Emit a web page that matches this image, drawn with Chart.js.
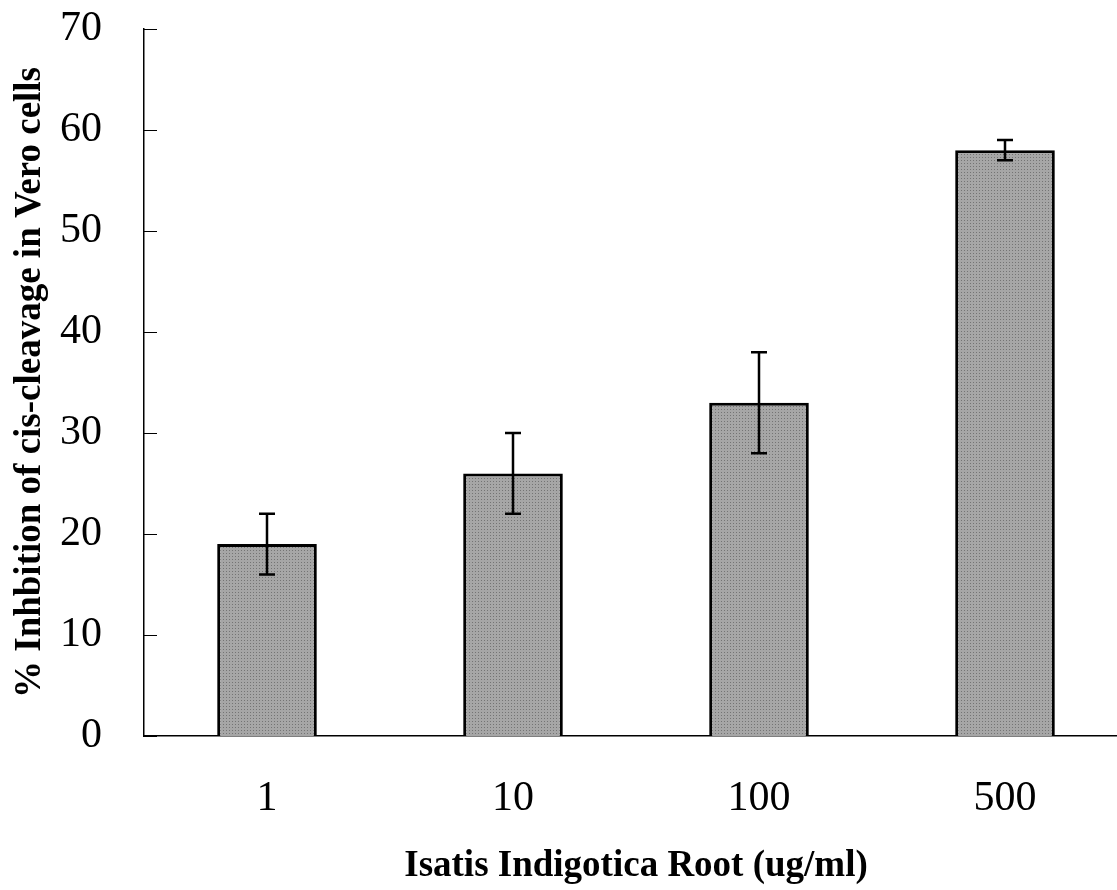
<!DOCTYPE html>
<html>
<head>
<meta charset="utf-8">
<script src="https://cdn.jsdelivr.net/npm/chart.js@4.4.1/dist/chart.umd.min.js"></script>
<style>
  html, body { margin: 0; padding: 0; background: #fff; overflow: hidden; }
  canvas { display: block; }
</style>
</head>
<body>
<canvas id="myChart" width="1128" height="890"></canvas>
<script>
var categories = ['1', '10', '100', '500'];
var inhibition = [19, 26, 33, 58];
var errLow = [16, 22, 28, 57];
var errHigh = [22, 30, 38, 59];
var yTicks = [0, 10, 20, 30, 40, 50, 60, 70];

// dotted grey fill like the original
var pc = document.createElement('canvas');
pc.width = 3; pc.height = 3;
var pctx = pc.getContext('2d');
pctx.fillStyle = '#a6a6a6';
pctx.fillRect(0, 0, 3, 3);
pctx.fillStyle = '#747474';
pctx.fillRect(1, 1, 1, 1);
var ctx = document.getElementById('myChart').getContext('2d');
var dotted = ctx.createPattern(pc, 'repeat');

var errorBars = {
  id: 'errorBars',
  afterDatasetsDraw: function(chart) {
    var c = chart.ctx;
    var meta = chart.getDatasetMeta(0);
    var y = chart.scales.y;
    c.save();
    c.strokeStyle = '#000';
    c.lineWidth = 2.5;
    for (var i = 0; i < meta.data.length; i++) {
      var x = meta.data[i].x;
      var top = y.getPixelForValue(errHigh[i]);
      var bot = y.getPixelForValue(errLow[i]);
      c.beginPath();
      c.moveTo(x, top); c.lineTo(x, bot);
      c.moveTo(x - 8, top); c.lineTo(x + 8, top);
      c.moveTo(x - 8, bot); c.lineTo(x + 8, bot);
      c.stroke();
    }
    c.restore();
  }
};

// tick marks point into the plot
var innerTicks = {
  id: 'innerTicks',
  afterDraw: function(chart) {
    var c = chart.ctx;
    var y = chart.scales.y;
    var left = chart.chartArea.left;
    c.save();
    c.strokeStyle = '#000';
    c.lineWidth = 1.2;
    c.beginPath();
    for (var i = 0; i < yTicks.length; i++) {
      var py = Math.round(y.getPixelForValue(yTicks[i])) + 0.5;
      c.moveTo(left, py);
      c.lineTo(left + 13, py);
    }
    c.stroke();
    c.restore();
  }
};

new Chart(ctx, {
  type: 'bar',
  data: {
    labels: categories,
    datasets: [{
      data: inhibition,
      backgroundColor: dotted,
      borderColor: '#000',
      borderWidth: 3,
      categoryPercentage: 1,
      barPercentage: 0.405
    }]
  },
  options: {
    responsive: false,
    maintainAspectRatio: false,
    animation: false,
    layout: { padding: { top: 29, right: 0, bottom: 0, left: 0 } },
    plugins: { legend: { display: false }, tooltip: { enabled: false } },
    scales: {
      x: {
        grid: { display: false },
        border: { display: true, color: '#000', width: 1.5 },
        ticks: {
          color: '#000',
          padding: 30,
          font: { family: '"Liberation Serif", "Times New Roman", serif', size: 42 }
        },
        title: {
          display: true,
          text: 'Isatis Indigotica Root (ug/ml)',
          color: '#000',
          padding: { top: 0, bottom: 1 },
          font: { family: '"Liberation Serif", "Times New Roman", serif', size: 37, weight: 'bold' }
        },
        afterFit: function(scale) { scale.height = 890 - 736; }
      },
      y: {
        min: 0,
        max: 70,
        grid: { display: false },
        border: { display: true, color: '#000', width: 1.5 },
        afterBuildTicks: function(scale) {
          scale.ticks = yTicks.map(function(v) { return { value: v }; });
        },
        ticks: {
          color: '#000',
          padding: 34,
          font: { family: '"Liberation Serif", "Times New Roman", serif', size: 42 }
        },
        title: {
          display: true,
          text: '% Inhbition of cis-cleavage in Vero cells',
          color: '#000',
          padding: { top: 8, bottom: 0 },
          font: { family: '"Liberation Serif", "Times New Roman", serif', size: 37, weight: 'bold' }
        },
        afterFit: function(scale) {
          scale.width = 144;
          scale.paddingTop = 0;
          scale.paddingBottom = 0;
        }
      }
    }
  },
  plugins: [errorBars, innerTicks]
});
</script>
</body>
</html>
